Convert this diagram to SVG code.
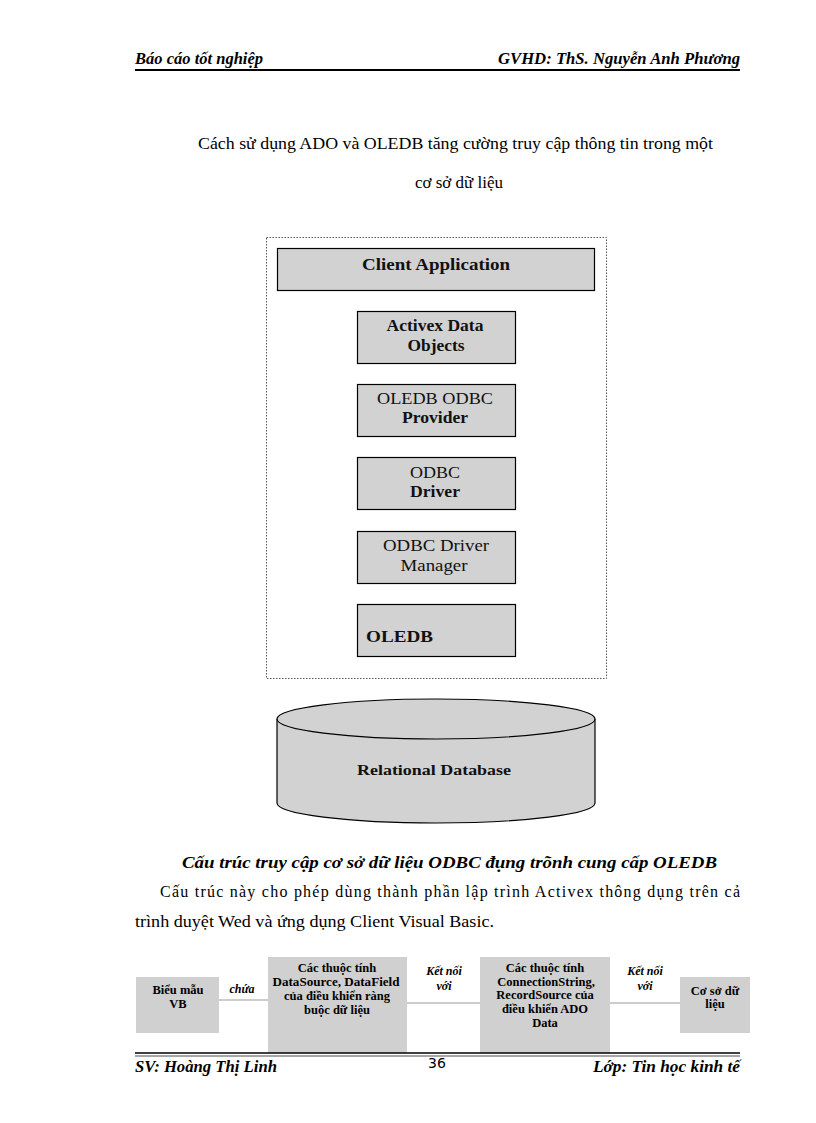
<svg xmlns="http://www.w3.org/2000/svg" width="816" height="1123" viewBox="0 0 816 1123">
<style>
.hdr{font-family:"Liberation Serif",serif;font-weight:bold;font-style:italic;font-size:16px;fill:#000}
.body{font-family:"Liberation Serif",serif;font-size:16px;fill:#000}
.box{fill:#d2d2d2;stroke:#000;stroke-width:1.2}
.lbl{font-family:"Liberation Serif",serif;font-weight:bold;font-size:16px;fill:#111;text-anchor:middle}
.nb{font-weight:normal;font-size:17px}
.fbox{fill:#d0d0d0}
.ft{font-family:"Liberation Serif",serif;font-weight:bold;font-size:12.5px;fill:#000;text-anchor:middle}
.fi{font-family:"Liberation Serif",serif;font-weight:bold;font-style:italic;font-size:12px;fill:#000;text-anchor:middle}
.conn{stroke:#999;stroke-width:1;fill:none}
</style>
<rect width="816" height="1123" fill="#fff"/>
<g id="header">
<text class="hdr" x="135" y="64" textLength="128" lengthAdjust="spacingAndGlyphs">Báo cáo tốt nghiệp</text>
<text class="hdr" x="498" y="64" textLength="242" lengthAdjust="spacingAndGlyphs">GVHD: ThS. Nguyễn Anh Phương</text>
<line x1="135" y1="70" x2="740" y2="70" stroke="#000" stroke-width="2"/>
</g>
<g id="title">
<text class="body" x="198" y="149" textLength="515" lengthAdjust="spacingAndGlyphs">Cách sử dụng ADO và OLEDB tăng cường truy cập thông tin trong một</text>
<text class="body" x="415" y="188" textLength="88" lengthAdjust="spacingAndGlyphs">cơ sở dữ liệu</text>
</g>
<rect id="container" x="266.5" y="237.5" width="340" height="441" fill="none" stroke="#555" stroke-width="1" stroke-dasharray="1.5,1.5"/>
<g id="client-application">
<rect class="box" x="277.5" y="248.5" width="317" height="42"/>
<text class="lbl" x="436" y="270" style="font-size:17px" textLength="148" lengthAdjust="spacingAndGlyphs">Client Application</text>
</g>
<g id="ado">
<rect class="box" x="357.5" y="311.5" width="158" height="52"/>
<text class="lbl" x="435" y="331" textLength="97" lengthAdjust="spacingAndGlyphs">Activex Data</text>
<text class="lbl" x="436" y="351" textLength="57" lengthAdjust="spacingAndGlyphs">Objects</text>
</g>
<g id="oledb-odbc-provider">
<rect class="box" x="357.5" y="384.5" width="158" height="52"/>
<text class="lbl nb" x="435" y="404" textLength="116" lengthAdjust="spacingAndGlyphs">OLEDB ODBC</text>
<text class="lbl" x="435" y="423" textLength="66" lengthAdjust="spacingAndGlyphs">Provider</text>
</g>
<g id="odbc-driver">
<rect class="box" x="357.5" y="457.5" width="158" height="52"/>
<text class="lbl nb" x="435" y="478" textLength="50" lengthAdjust="spacingAndGlyphs">ODBC</text>
<text class="lbl" x="435" y="497" textLength="50" lengthAdjust="spacingAndGlyphs">Driver</text>
</g>
<g id="odbc-driver-manager">
<rect class="box" x="357.5" y="531.5" width="158" height="52"/>
<text class="lbl nb" x="436" y="551" textLength="106" lengthAdjust="spacingAndGlyphs">ODBC Driver</text>
<text class="lbl nb" x="434" y="571" textLength="67" lengthAdjust="spacingAndGlyphs">Manager</text>
</g>
<g id="oledb">
<rect class="box" x="357.5" y="604.5" width="158" height="52"/>
<text class="lbl" x="366" y="642" style="text-anchor:start;font-size:17px" textLength="67" lengthAdjust="spacingAndGlyphs">OLEDB</text>
</g>
<g id="relational-database">
<path d="M277,719 L277,803 A159,20 0 0 0 595,803 L595,719" class="box"/>
<ellipse cx="436" cy="719" rx="159" ry="20" class="box"/>
<text class="lbl" x="434" y="775" style="font-size:15px" textLength="154" lengthAdjust="spacingAndGlyphs">Relational  Database</text>
</g>
<g id="text2">
<text x="182" y="868" style="font-family:'Liberation Serif',serif;font-weight:bold;font-style:italic;font-size:16px" textLength="535" lengthAdjust="spacingAndGlyphs">Cấu trúc truy cập cơ sở dữ liệu ODBC đụng trõnh cung cấp  OLEDB</text>
<text class="body" x="160" y="897" textLength="580" lengthAdjust="spacing">Cấu trúc này cho phép dùng thành phần lập trình Activex thông dụng trên cả</text>
<text class="body" x="135" y="927" textLength="359" lengthAdjust="spacingAndGlyphs">trình duyệt Wed và ứng dụng Client  Visual Basic.</text>
</g>
<g id="connectors">
<line class="conn" x1="219" y1="1000" x2="268" y2="1000"/>
<line class="conn" x1="407" y1="1003" x2="480" y2="1003"/>
<line class="conn" x1="610" y1="1003" x2="680" y2="1003"/>
<text class="fi" x="242" y="993">chứa</text>
<text class="fi" x="444" y="975">Kết nối</text>
<text class="fi" x="444" y="990">với</text>
<text class="fi" x="645" y="975">Kết nối</text>
<text class="fi" x="645" y="990">với</text>
</g>
<g id="bieu-mau-vb">
<rect class="fbox" x="136" y="977" width="83" height="56"/>
<text class="ft" x="178" y="994">Biểu mẫu</text>
<text class="ft" x="178" y="1008">VB</text>
</g>
<g id="datasource-props">
<rect class="fbox" x="268" y="957" width="139" height="96"/>
<text class="ft" x="337" y="972">Các thuộc tính</text>
<text class="ft" x="336" y="986" textLength="127" lengthAdjust="spacingAndGlyphs">DataSource, DataField</text>
<text class="ft" x="337" y="1000">của điều khiển ràng</text>
<text class="ft" x="337" y="1014">buộc dữ liệu</text>
</g>
<g id="connection-props">
<rect class="fbox" x="480" y="957" width="130" height="96"/>
<text class="ft" x="545" y="972">Các thuộc tính</text>
<text class="ft" x="546" y="986">ConnectionString,</text>
<text class="ft" x="545" y="999">RecordSource của</text>
<text class="ft" x="545" y="1013">điều khiển ADO</text>
<text class="ft" x="545" y="1027">Data</text>
</g>
<g id="co-so-du-lieu">
<rect class="fbox" x="680" y="977" width="70" height="56"/>
<text class="ft" x="715" y="995">Cơ sở dữ</text>
<text class="ft" x="715" y="1008">liệu</text>
</g>
<g id="footer">
<line x1="135" y1="1053" x2="740" y2="1053" stroke="#000" stroke-width="1.5"/>
<line x1="135" y1="1056" x2="740" y2="1056" stroke="#000" stroke-width="0.7"/>
<text class="hdr" x="135" y="1072" textLength="142" lengthAdjust="spacingAndGlyphs">SV: Hoàng Thị Linh</text>
<text x="428" y="1068" style="font-family:'DejaVu Sans',sans-serif;font-size:14px">36</text>
<text class="hdr" x="593" y="1072" textLength="147" lengthAdjust="spacingAndGlyphs">Lớp: Tin học kinh tế</text>
</g>
</svg>
